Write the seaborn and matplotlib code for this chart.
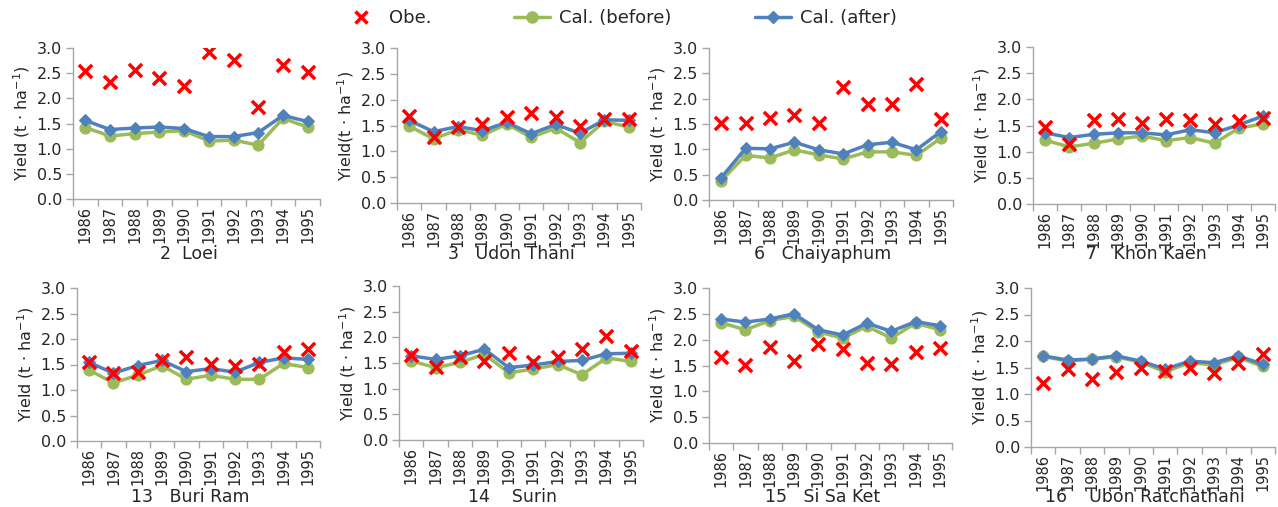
import matplotlib
matplotlib.use("Agg")
import matplotlib.pyplot as plt
import seaborn as sns
import pandas as pd
from matplotlib.lines import Line2D

years = ["1986", "1987", "1988", "1989", "1990", "1991", "1992", "1993", "1994", "1995"]
titles = ["2  Loei", "3   Udon Thani", "6   Chaiyaphum", "7   Khon Kaen",
          "13   Buri Ram", "14    Surin", "15   Si Sa Ket", "16    Ubon Ratchathani"]

obe_loei = [2.55, 2.32, 2.57, 2.40, 2.24, 2.92, 2.77, 1.83, 2.66, 2.52]
bef_loei = [1.42, 1.25, 1.30, 1.33, 1.36, 1.15, 1.17, 1.07, 1.60, 1.43]
aft_loei = [1.56, 1.38, 1.41, 1.43, 1.40, 1.24, 1.24, 1.32, 1.66, 1.54]

obe_udon = [1.68, 1.28, 1.47, 1.53, 1.67, 1.74, 1.67, 1.49, 1.63, 1.62]
bef_udon = [1.49, 1.24, 1.42, 1.31, 1.53, 1.27, 1.45, 1.17, 1.58, 1.47]
aft_udon = [1.60, 1.38, 1.48, 1.40, 1.56, 1.34, 1.52, 1.35, 1.61, 1.60]

obe_chai = [1.52, 1.52, 1.61, 1.67, 1.52, 2.23, 1.90, 1.90, 2.28, 1.60]
bef_chai = [0.38, 0.88, 0.83, 0.99, 0.89, 0.81, 0.95, 0.95, 0.88, 1.22]
aft_chai = [0.44, 1.02, 1.01, 1.14, 0.99, 0.91, 1.09, 1.14, 0.99, 1.35]

obe_khon = [1.47, 1.14, 1.60, 1.62, 1.55, 1.63, 1.61, 1.53, 1.59, 1.65]
bef_khon = [1.22, 1.09, 1.16, 1.24, 1.30, 1.21, 1.27, 1.16, 1.45, 1.53]
aft_khon = [1.36, 1.27, 1.33, 1.36, 1.36, 1.32, 1.42, 1.36, 1.51, 1.68]

obe_buri = [1.54, 1.34, 1.35, 1.59, 1.64, 1.51, 1.47, 1.51, 1.75, 1.81]
bef_buri = [1.39, 1.14, 1.29, 1.48, 1.21, 1.29, 1.21, 1.21, 1.52, 1.44]
aft_buri = [1.54, 1.33, 1.48, 1.58, 1.36, 1.42, 1.35, 1.54, 1.63, 1.60]

obe_surin = [1.66, 1.42, 1.62, 1.53, 1.69, 1.51, 1.62, 1.77, 2.03, 1.73]
bef_surin = [1.54, 1.41, 1.51, 1.67, 1.31, 1.38, 1.47, 1.27, 1.60, 1.53]
aft_surin = [1.64, 1.57, 1.64, 1.77, 1.41, 1.46, 1.53, 1.55, 1.68, 1.69]

obe_sisa = [1.66, 1.51, 1.85, 1.59, 1.92, 1.82, 1.54, 1.53, 1.77, 1.83]
bef_sisa = [2.33, 2.19, 2.37, 2.45, 2.15, 2.03, 2.26, 2.03, 2.32, 2.19]
aft_sisa = [2.40, 2.34, 2.40, 2.50, 2.19, 2.09, 2.32, 2.16, 2.35, 2.27]

obe_ubon = [1.20, 1.48, 1.29, 1.42, 1.50, 1.44, 1.50, 1.39, 1.58, 1.75]
bef_ubon = [1.71, 1.62, 1.66, 1.70, 1.60, 1.42, 1.59, 1.55, 1.69, 1.52]
aft_ubon = [1.72, 1.64, 1.66, 1.72, 1.62, 1.47, 1.62, 1.59, 1.72, 1.56]

obe_all = [obe_loei, obe_udon, obe_chai, obe_khon, obe_buri, obe_surin, obe_sisa, obe_ubon]
bef_all = [bef_loei, bef_udon, bef_chai, bef_khon, bef_buri, bef_surin, bef_sisa, bef_ubon]
aft_all = [aft_loei, aft_udon, aft_chai, aft_khon, aft_buri, aft_surin, aft_sisa, aft_ubon]

ylabels = [r"Yield (t $\cdot$ ha$^{-1}$)", r"Yield(t $\cdot$ ha$^{-1}$)"] + \
          [r"Yield (t $\cdot$ ha$^{-1}$)"] * 6

sns.set_theme(style="white")
plt.rcParams["font.family"] = ["DejaVu Sans"]
plt.rcParams["mathtext.default"] = "regular"

W, H = 1278, 507
fig = plt.figure(figsize=(W / 100, H / 100), dpi=100)

# axes boxes in pixels: left, top, right, bottom
boxes = [(73, 48, 320, 199), (397, 48, 641, 203), (709, 48, 953, 200), (1033, 47, 1275, 204),
         (77, 288, 320, 441), (399, 286, 643, 440), (709, 288, 952, 443), (1031, 288, 1275, 447)]
title_y = [254, 254, 254, 254, 497, 497, 497, 497]

RED = "#FF0000"
GREEN = "#9BBB59"
BLUE = "#4F81BD"
GRAY = "#A6A6A6"
TXT = "#262626"

for i, (l, t, r, b) in enumerate(boxes):
    ax = fig.add_axes([l / W, 1 - b / H, (r - l) / W, (b - t) / H])
    df = pd.DataFrame({"x": list(range(len(years))), "obe": obe_all[i],
                       "bef": bef_all[i], "aft": aft_all[i]})
    sns.lineplot(data=df, x="x", y="bef", ax=ax, color=GREEN, lw=2.5, marker="o",
                 markersize=8, markeredgecolor=GREEN, zorder=2)
    sns.lineplot(data=df, x="x", y="aft", ax=ax, color=BLUE, lw=2.5, marker="D",
                 markersize=6.5, markeredgecolor=BLUE, zorder=3)
    sns.scatterplot(data=df, x="x", y="obe", ax=ax, color=RED, marker="x", s=90,
                    linewidth=2.5, zorder=4)
    ax.set_xlim(-0.5, len(years) - 0.5)
    ax.set_ylim(0, 3.0)
    ax.set_yticks([0, 0.5, 1.0, 1.5, 2.0, 2.5, 3.0])
    ax.set_yticklabels([f"{v:.1f}" for v in [0, 0.5, 1.0, 1.5, 2.0, 2.5, 3.0]], fontsize=11.5, color=TXT)
    ax.set_xticks(range(len(years)))
    ax.set_xticklabels(years, rotation=90, fontsize=10.5, color=TXT)
    ax.set_xticks([k - 0.5 for k in range(len(years) + 1)], minor=True)
    ax.tick_params(axis="x", which="major", length=0, pad=5)
    ax.tick_params(axis="x", which="minor", length=5, width=1, color=GRAY, direction="out", bottom=True)
    ax.tick_params(axis="y", which="major", length=5, width=1, color=GRAY, direction="out", left=True, pad=3)
    for s in ["top", "right"]:
        ax.spines[s].set_visible(False)
    for s in ["left", "bottom"]:
        ax.spines[s].set_color(GRAY)
        ax.spines[s].set_linewidth(1)
    ax.set_ylabel(ylabels[i], fontsize=11.5, color=TXT, labelpad=3)
    ax.set_xlabel("")
    ax.grid(False)
    fig.text((l + r) / 2 / W - 8 / W, 1 - title_y[i] / H, titles[i], fontsize=12.5,
             color=TXT, ha="center", va="center")

handles = [Line2D([], [], ls="none", marker="x", color=RED, markersize=9, markeredgewidth=2.5),
           Line2D([], [], color=GREEN, lw=2.5, marker="o", markersize=8),
           Line2D([], [], color=BLUE, lw=2.5, marker="D", markersize=6.5)]
fig.legend(handles, ["Obe.", "Cal. (before)", "Cal. (after)"], loc="center",
           bbox_to_anchor=(620 / W, 1 - 18 / H), ncol=3, frameon=False, fontsize=13,
           columnspacing=4.6, handlelength=2.0, handletextpad=0.5)

fig.savefig("out.png", dpi=100)
